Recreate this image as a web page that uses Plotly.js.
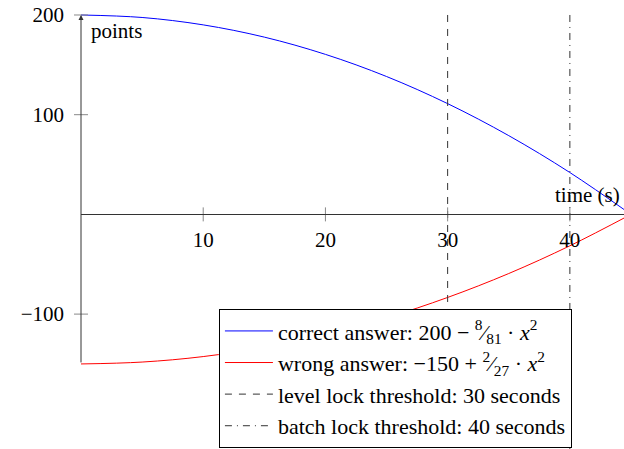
<!DOCTYPE html>
<html>
<head>
<meta charset="utf-8">
<script src="https://cdn.plot.ly/plotly-3.0.1.min.js"></script>
<style>
  html, body { margin: 0; padding: 0; background: #fff; }
  #chart { width: 624px; height: 449px; }
</style>
</head>
<body>
<div id="chart"></div>
<script>
// time in seconds
const times = [0, 5, 10, 15, 20, 25, 30, 35, 40, 45];
const correctPoints = [200, 197.5, 190.1, 177.8, 160.5, 138.3, 111.1, 79.0, 42.0, 0];
const wrongPoints = [-150, -148.1, -142.6, -133.3, -120.4, -103.7, -83.3, -59.3, -31.5, 0];

const levelLock = 30;
const batchLock = 40;

const xTicks = [10, 20, 30, 40];
const yTicks = [-100, 100, 200];
const yAxisSpan = [-150, 200];

const names = [
  "correct answer: 200 − <sup>8</sup>⁄<sub>81</sub> · <i>x</i><sup>2</sup>",
  "wrong answer: −150 + <sup>2</sup>⁄<sub>27</sub> · <i>x</i><sup>2</sup>",
  "level lock threshold: 30 seconds",
  "batch lock threshold: 40 seconds"
];

const font = "Liberation Serif, Times New Roman, serif";
const fs = 21;
const axisInk = "#333";
const tickInk = "#888";

const xRange = [0, 44.43];
const yRange = [-235.3, 205];

const traces = [
  { x: times, y: correctPoints, name: names[0], legendgroup: "a", mode: "lines",
    line: { color: "#0000ff", width: 1, shape: "spline" } },
  { x: times, y: wrongPoints, name: names[1], legendgroup: "b", mode: "lines",
    line: { color: "#ff0000", width: 1, shape: "spline" } },
  { x: [levelLock, levelLock], y: [yAxisSpan[1], yRange[0]], name: names[2], legendgroup: "c", mode: "lines",
    line: { color: axisInk, width: 1, dash: "7px,7px" } },
  { x: [batchLock, batchLock], y: [yAxisSpan[1], yRange[0]], name: names[3], legendgroup: "d", mode: "lines",
    line: { color: axisInk, width: 1, dash: "7px,5px,1px,5px" } },
  // tick marks crossing the axes
  { x: xTicks, y: xTicks.map(() => 0), mode: "markers", showlegend: false, cliponaxis: false,
    marker: { symbol: "line-ns", size: 10, line: { color: tickInk, width: 1 } } },
  { x: yTicks.map(() => 0), y: yTicks, mode: "markers", showlegend: false, cliponaxis: false,
    marker: { symbol: "line-ew", size: 10, line: { color: tickInk, width: 1 } } }
];

const zeroPos = (0 - yRange[0]) / (yRange[1] - yRange[0]);

const layout = {
  width: 624,
  height: 449,
  margin: { l: 81, r: 0, t: 10, b: 0 },
  paper_bgcolor: "#fff",
  plot_bgcolor: "#fff",
  font: { family: font, size: fs, color: "#000" },
  hovermode: false,
  xaxis: {
    range: xRange,
    anchor: "free",
    position: zeroPos,
    showline: true,
    linecolor: axisInk,
    linewidth: 1,
    showgrid: false,
    zeroline: false,
    ticks: "",
    tickvals: xTicks,
    ticklabelstandoff: 6,
    tickfont: { family: font, size: fs, color: "#000" }
  },
  yaxis: {
    range: yRange,
    showline: false,
    showgrid: false,
    zeroline: false,
    ticks: "",
    tickvals: yTicks,
    ticktext: yTicks.map(v => (v < 0 ? "−" + Math.abs(v) : String(v))),
    ticklabelstandoff: 16,
    tickfont: { family: font, size: fs, color: "#000" }
  },
  showlegend: true,
  legend: {
    x: 0.254, xanchor: "left",
    y: 0.002, yanchor: "bottom",
    bgcolor: "#fff",
    bordercolor: "#000",
    borderwidth: 1,
    traceorder: "grouped",
    tracegroupgap: 0,
    itemwidth: 48,
    font: { family: font, size: 22, color: "#000" }
  },
  annotations: [
    { x: 0, y: yAxisSpan[1], ax: 0, ay: yAxisSpan[0], xref: "x", yref: "y", axref: "x", ayref: "y",
      text: "", showarrow: true, arrowhead: 2, arrowsize: 1, arrowwidth: 1, arrowcolor: axisInk, standoff: 0 },
    { x: 0, y: yAxisSpan[1], xref: "x", yref: "y", text: "points", showarrow: false,
      xanchor: "left", yanchor: "top", xshift: 8, yshift: -2, font: { family: font, size: fs } },
    { x: xRange[1], y: 0, xref: "x", yref: "y", text: "time (s)", showarrow: false,
      xanchor: "right", yanchor: "bottom", xshift: -2, yshift: 5, font: { family: font, size: fs } }
  ]
};

Plotly.newPlot("chart", traces, layout, { staticPlot: true, displayModeBar: false });
</script>
</body>
</html>
